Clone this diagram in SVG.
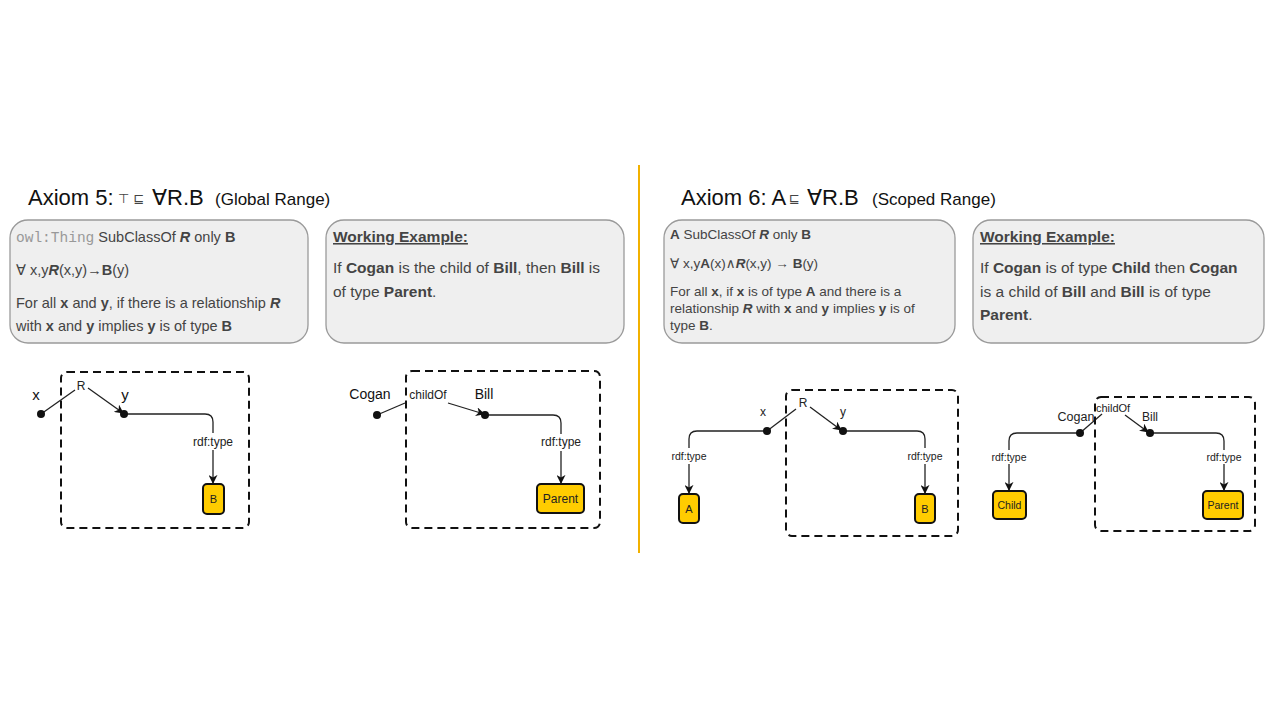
<svg xmlns="http://www.w3.org/2000/svg" width="1280" height="720" viewBox="0 0 1280 720">
<style>
text{font-family:"Liberation Sans","DejaVu Sans",Arial,sans-serif}
.title{font-size:22px;fill:#111}
.sub{font-size:17px;fill:#111}
.sym{font-size:13px;fill:#444;font-family:"DejaVu Sans",sans-serif}
.box{fill:#efefef;stroke:#9a9a9a;stroke-width:1.3}
.bt{font-size:14.5px;fill:#444}
.bt2{font-size:15.5px;fill:#444}
.bt3{font-size:13.5px;fill:#444}
.mono{font-family:"Liberation Mono","DejaVu Sans Mono",monospace;fill:#999}
.b{font-weight:bold}
.bi{font-weight:bold;font-style:italic}
.dash{fill:none;stroke:#111;stroke-width:2;stroke-dasharray:8 5}
.edge{fill:none;stroke:#222;stroke-width:1.3}
.dot{fill:#111}
.cls{fill:#ffcc00;stroke:#111;stroke-width:2}
.lbl{font-size:15px;fill:#111}
.el{font-size:12px;fill:#222}
.nl{font-size:12px;fill:#222;text-anchor:middle}
</style>
<defs>
<marker id="arr" viewBox="0 0 10 10" refX="9" refY="5" markerWidth="9" markerHeight="9" markerUnits="userSpaceOnUse" orient="auto">
<path d="M0,0 L10,5 L0,10 L3,5 z" fill="#111"/>
</marker>
</defs>

<line x1="639" y1="165" x2="639" y2="553" stroke="#f2b100" stroke-width="2"/>

<g id="title5">
<text x="28" y="205" class="title">Axiom 5:</text>
<text x="118" y="203" class="sym">⊤ ⊑</text>
<text x="152" y="205" class="title">∀R.B</text>
<text x="215" y="205" class="sub">(Global Range)</text>
</g>
<g id="title6">
<text x="681" y="205" class="title">Axiom 6: A</text>
<text x="789" y="203" class="sym">⊑</text>
<text x="807" y="205" class="title">∀R.B</text>
<text x="872" y="205" class="sub">(Scoped Range)</text>
</g>

<g id="box-def5">
<rect x="10" y="220" width="298" height="123" rx="18" class="box"/>
<text x="16" y="242" class="bt"><tspan class="mono">owl:Thing</tspan> SubClassOf <tspan class="bi">R</tspan> only <tspan class="b">B</tspan></text>
<text x="16" y="275" class="bt">∀ x,y<tspan class="bi">R</tspan>(x,y)→<tspan class="b">B</tspan>(y)</text>
<text x="16" y="308" class="bt">For all <tspan class="b">x</tspan> and <tspan class="b">y</tspan>, if there is a relationship <tspan class="bi">R</tspan></text>
<text x="16" y="331" class="bt">with <tspan class="b">x</tspan> and <tspan class="b">y</tspan> implies <tspan class="b">y</tspan> is of type <tspan class="b">B</tspan></text>
</g>
<g id="box-ex5">
<rect x="326" y="220" width="298" height="123" rx="18" class="box"/>
<text x="333" y="242" class="bt2 b" text-decoration="underline">Working Example:</text>
<text x="333" y="273" class="bt2">If <tspan class="b">Cogan</tspan> is the child of <tspan class="b">Bill</tspan>, then <tspan class="b">Bill</tspan> is</text>
<text x="333" y="297" class="bt2">of type <tspan class="b">Parent</tspan>.</text>
</g>
<g id="box-def6">
<rect x="664" y="220" width="291" height="123" rx="18" class="box"/>
<text x="670" y="239" class="bt3"><tspan class="b">A</tspan> SubClassOf <tspan class="bi">R</tspan> only <tspan class="b">B</tspan></text>
<text x="670" y="268" class="bt3">∀ x,y<tspan class="b">A</tspan>(x)∧<tspan class="bi">R</tspan>(x,y) → <tspan class="b">B</tspan>(y)</text>
<text x="670" y="296" class="bt3">For all <tspan class="b">x</tspan>, if <tspan class="b">x</tspan> is of type <tspan class="b">A</tspan> and there is a</text>
<text x="670" y="313" class="bt3">relationship <tspan class="bi">R</tspan> with <tspan class="b">x</tspan> and <tspan class="b">y</tspan> implies <tspan class="b">y</tspan> is of</text>
<text x="670" y="330" class="bt3">type <tspan class="b">B</tspan>.</text>
</g>
<g id="box-ex6">
<rect x="973" y="220" width="291" height="123" rx="18" class="box"/>
<text x="980" y="242" class="bt2 b" text-decoration="underline">Working Example:</text>
<text x="980" y="273" class="bt2">If <tspan class="b">Cogan</tspan> is of type <tspan class="b">Child</tspan> then <tspan class="b">Cogan</tspan></text>
<text x="980" y="297" class="bt2">is a child of <tspan class="b">Bill</tspan> and <tspan class="b">Bill</tspan> is of type</text>
<text x="980" y="320" class="bt2"><tspan class="b">Parent</tspan>.</text>
</g>

<!-- Diagram 1 -->
<rect id="scope1" x="61" y="372" width="188" height="156" rx="6" class="dash"/>
<g id="connectors">
<path class="edge" d="M41,414 L75,390"/>
<path class="edge" d="M88,388 L123,413" marker-end="url(#arr)"/>
<path class="edge" d="M124,414 L205,414 Q213,414 213,422 L213,433"/>
<path class="edge" d="M213,450 L213,483" marker-end="url(#arr)"/>

<path class="edge" d="M377,415 L405,403"/>
<path class="edge" d="M448,403 L484,414" marker-end="url(#arr)"/>
<path class="edge" d="M485,415 L553,415 Q561,415 561,423 L561,434"/>
<path class="edge" d="M561,451 L561,483" marker-end="url(#arr)"/>

<path class="edge" d="M767,431 L796,409"/>
<path class="edge" d="M810,407 L841,430" marker-end="url(#arr)"/>
<path class="edge" d="M842,431 L917,431 Q925,431 925,439 L925,448"/>
<path class="edge" d="M925,464 L925,493" marker-end="url(#arr)"/>
<path class="edge" d="M767,431 L697,431 Q689,431 689,439 L689,448"/>
<path class="edge" d="M689,464 L689,493" marker-end="url(#arr)"/>

<path class="edge" d="M1080,433 L1102,414"/>
<path class="edge" d="M1125,415 L1148,432" marker-end="url(#arr)"/>
<path class="edge" d="M1150,433 L1216,433 Q1224,433 1224,441 L1224,450"/>
<path class="edge" d="M1224,464 L1224,490" marker-end="url(#arr)"/>
<path class="edge" d="M1080,433 L1017,433 Q1009,433 1009,441 L1009,450"/>
<path class="edge" d="M1009,464 L1009,490" marker-end="url(#arr)"/>
</g>
<g id="d1-x"><circle cx="41" cy="414" r="4" class="dot"/><text x="36" y="400" class="lbl" text-anchor="middle">x</text></g>
<g id="d1-y"><circle cx="124" cy="414" r="4" class="dot"/><text x="125" y="400" class="lbl" text-anchor="middle">y</text></g>
<text x="81" y="390" class="nl">R</text>
<text x="213" y="446" class="nl">rdf:type</text>
<g id="d1-B"><rect x="203" y="484" width="21" height="30" rx="4" class="cls"/><text x="213.5" y="503" class="nl" style="font-size:11px">B</text></g>

<!-- Diagram 2 -->
<rect id="scope2" x="406" y="371" width="194" height="157" rx="6" class="dash"/>
<g id="d2-cogan"><circle cx="377" cy="415" r="4" class="dot"/><text x="370" y="399" class="lbl" text-anchor="middle" style="font-size:14px">Cogan</text></g>
<g id="d2-bill"><circle cx="485" cy="415" r="4" class="dot"/><text x="484" y="399" class="lbl" text-anchor="middle" style="font-size:14px">Bill</text></g>
<text x="428" y="399" class="nl">childOf</text>
<text x="561" y="446" class="nl">rdf:type</text>
<g id="d2-parent"><rect x="537" y="484" width="47" height="29" rx="4" class="cls"/><text x="560.5" y="503" class="nl">Parent</text></g>

<!-- Diagram 3 -->
<rect id="scope3" x="786" y="390" width="172" height="146" rx="6" class="dash"/>
<g id="d3-x"><circle cx="767" cy="431" r="4" class="dot"/><text x="763" y="416" class="el" text-anchor="middle">x</text></g>
<g id="d3-y"><circle cx="843" cy="431" r="4" class="dot"/><text x="843" y="416" class="el" text-anchor="middle">y</text></g>
<text x="803" y="407" class="nl">R</text>
<text x="925" y="460" class="nl" style="font-size:10.5px">rdf:type</text>
<text x="689" y="460" class="nl" style="font-size:10.5px">rdf:type</text>
<g id="d3-A"><rect x="679" y="494" width="20" height="29" rx="4" class="cls"/><text x="689" y="513" class="nl" style="font-size:11px">A</text></g>
<g id="d3-B"><rect x="915" y="494" width="20" height="29" rx="4" class="cls"/><text x="925" y="513" class="nl" style="font-size:11px">B</text></g>

<!-- Diagram 4 -->
<rect id="scope4" x="1095" y="397" width="160" height="134" rx="6" class="dash"/>
<g id="d4-cogan"><circle cx="1080" cy="433" r="4" class="dot"/><text x="1076" y="421" class="el" text-anchor="middle" style="font-size:12.5px">Cogan</text></g>
<g id="d4-bill"><circle cx="1150" cy="433" r="4" class="dot"/><text x="1150" y="421" class="el" text-anchor="middle">Bill</text></g>
<text x="1113" y="412" class="nl" style="font-size:11px">childOf</text>
<text x="1224" y="461" class="nl" style="font-size:10.5px">rdf:type</text>
<text x="1009" y="461" class="nl" style="font-size:10.5px">rdf:type</text>
<g id="d4-child"><rect x="993" y="491" width="33" height="28" rx="4" class="cls"/><text x="1009.5" y="509" class="nl" style="font-size:10.5px">Child</text></g>
<g id="d4-parent"><rect x="1203" y="491" width="40" height="28" rx="4" class="cls"/><text x="1223" y="509" class="nl" style="font-size:10.5px">Parent</text></g>
</svg>
